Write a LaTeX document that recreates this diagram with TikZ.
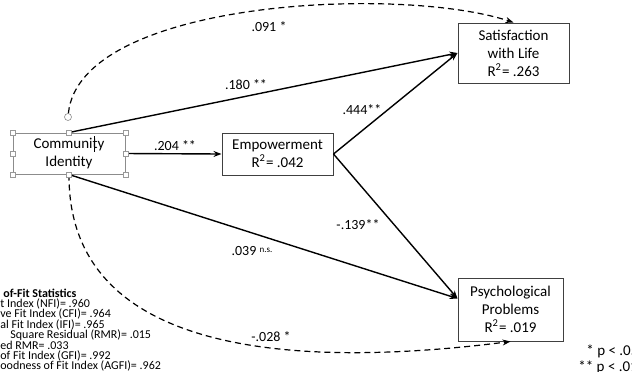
\documentclass[tikz,border=0pt]{standalone}
\usepackage{fontspec}
\setmainfont{Carlito}
\usetikzlibrary{arrows.meta}

\begin{document}
\begin{tikzpicture}[x=0.5pt,y=-0.5pt,
  varbox/.style={draw=black!75, line width=0.5pt, align=center, inner sep=0pt, text=black, font=\fontsize{7.5}{9}\selectfont},
  pathline/.style={line width=0.7pt, -{Stealth[length=4pt,width=3pt]}},
  covline/.style={pathline, dash pattern=on 3pt off 2pt, line width=0.6pt},
  coef/.style={inner sep=0pt, text=black, font=\fontsize{7}{8}\selectfont},
  handle/.style={draw=black!40, fill=white, line width=0.3pt, minimum size=2.5pt, inner sep=0pt},
  fitstat/.style={anchor=west, inner sep=0pt, text=black, font=\fontsize{6}{6}\selectfont}]

\useasboundingbox (0,0) rectangle (632,371);
\clip (0,0) rectangle (632,371);

% Boxes
\node[varbox, draw=black!45, minimum width=56pt, minimum height=20.5pt] (CI) at (69,153.5) {Community\\Identity};
\node[varbox, minimum width=55.5pt, minimum height=21pt] (EMP) at (277.5,154) {Empowerment\\R\textsuperscript{2}= .042};
\node[varbox, minimum width=55.5pt, minimum height=30pt] (SWL) at (513.5,53) {Satisfaction\\with Life\\R\textsuperscript{2}= .263};
\node[varbox, minimum width=52.5pt, minimum height=31.5pt] (PP) at (510.5,309.5) {Psychological\\Problems\\R\textsuperscript{2}= .019};
\coordinate (PPin) at ([yshift=5.5pt]PP.west);

% rotation handle above the selected box
\node[draw=black!45, circle, line width=0.3pt, minimum size=3.5pt, inner sep=0pt] (rot) at (68,117) {};

% Direct paths
\draw[pathline] (CI.east) -- (EMP.west);
\draw[pathline] (CI.north) -- (SWL.west);
\draw[pathline] (CI.south) -- (PPin);
\draw[pathline] (EMP.east) -- (SWL.west);
\draw[pathline] (EMP.east) -- (PPin);

% Dashed paths
\draw[covline] (rot) .. controls (80,0) and (400,-15) .. (SWL.north);
\draw[covline] (CI.south) .. controls (68,345) and (270,372) .. (PP.south);

% Selection handles
\foreach \a in {north west,north,north east,east,south east,south,south west,west}
  \node[handle] at (CI.\a) {};
\draw[line width=0.3pt] (94,136) -- (94,152);

% Coefficients
\node[coef] (c091) at (269,27) {.091 *};
\node[coef] (c180) at (246,85) {.180 **};
\node[coef] (c204) at (175,146) {.204 **};
\node[coef] (c444) at (362,110) {.444**};
\node[coef] (c139) at (358,225) {-.139**};
\node[coef] (c039) at (252,251) {.039 \raisebox{1.5pt}{\fontsize{4.5}{5}\selectfont n.s.}};
\node[coef] (c028) at (271,337) {-.028 *};

% Fit statistics
\node[fitstat] (fit0) at (3,293) {\textbf{of-Fit Statistics}};
\node[fitstat] (fit1) at (0,303.5) {t Index (NFI)= .960};
\node[fitstat] (fit2) at (0,314) {ve Fit Index (CFI)= .964};
\node[fitstat] (fit3) at (0,324.5) {al Fit Index (IFI)= .965};
\node[fitstat] (fit4) at (10,335) {Square Residual (RMR)= .015};
\node[fitstat] (fit5) at (0,345) {ed RMR= .033};
\node[fitstat] (fit6) at (0,355.5) {of Fit Index (GFI)= .992};
\node[fitstat] (fit7) at (0,366) {oodness of Fit Index (AGFI)= .962};

% Significance
\node[coef, anchor=west, font=\fontsize{7.5}{8}\selectfont] (p05) at (586,351) {* p < .05};
\node[coef, anchor=west, font=\fontsize{7.5}{8}\selectfont] (p01) at (578,367) {** p < .01};

\end{tikzpicture}
\end{document}
